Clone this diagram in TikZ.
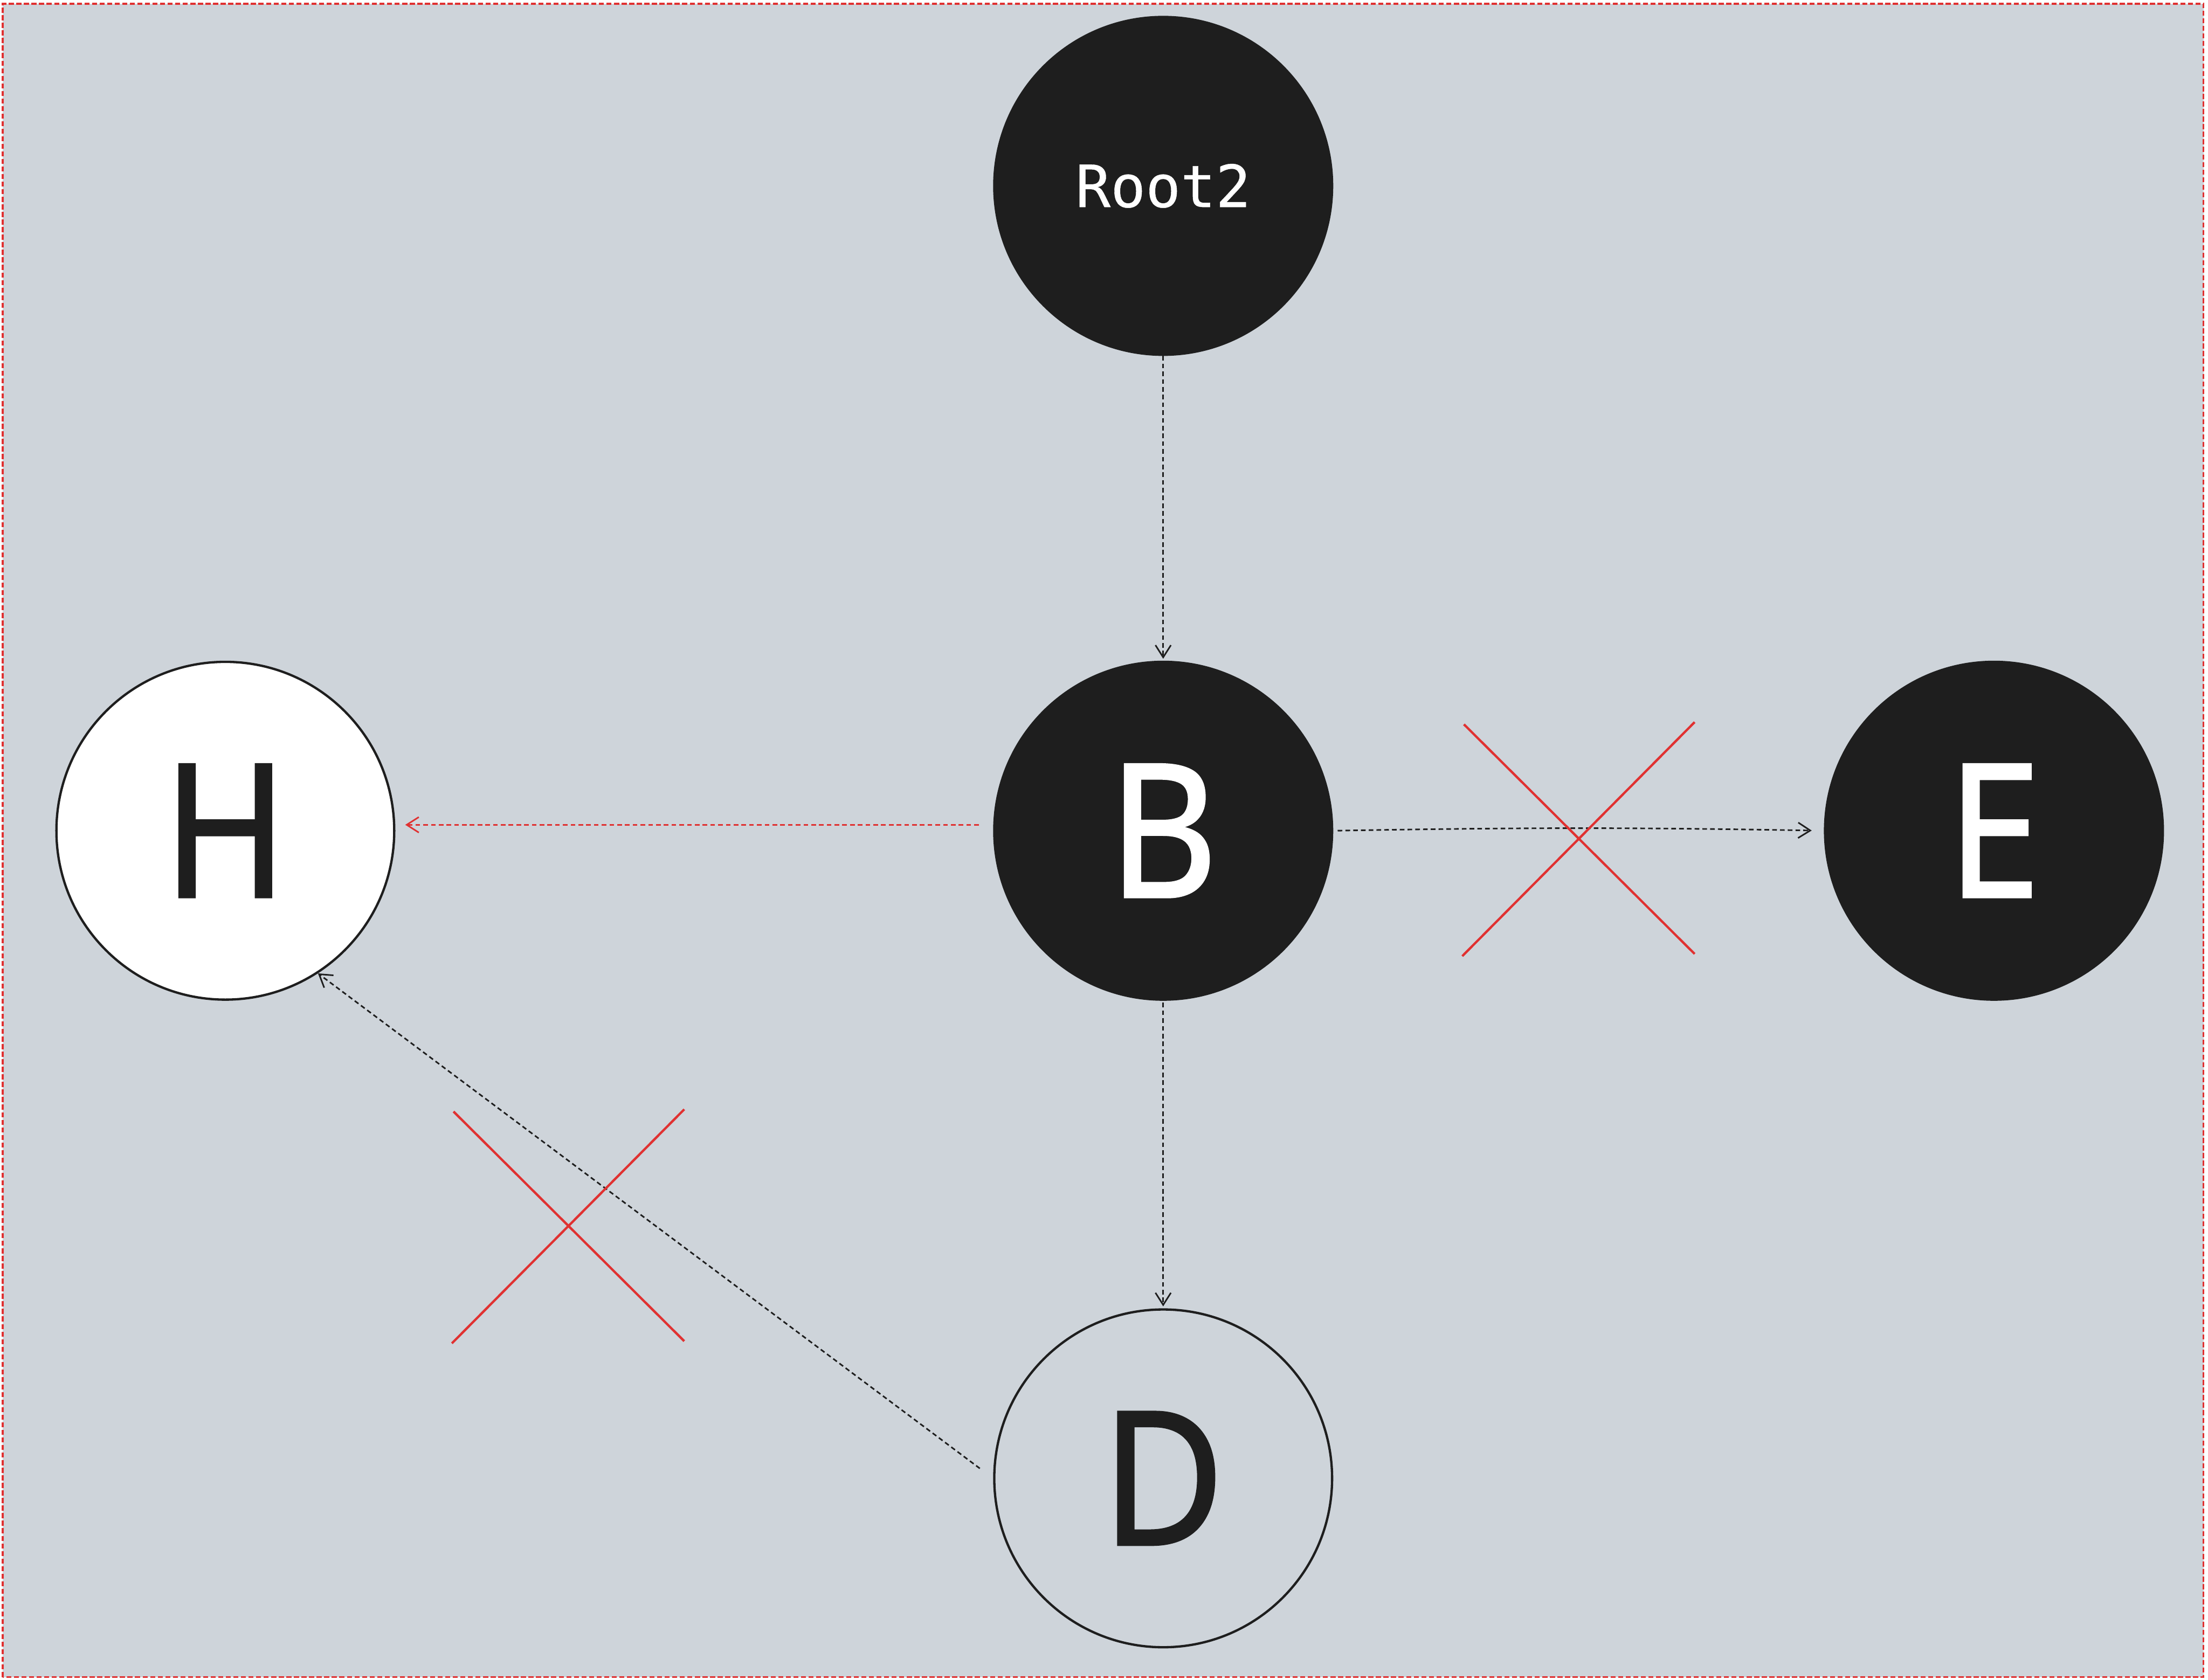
\documentclass[tikz,border=0pt]{standalone}
\usepackage{fontspec}
\setmainfont{Noto Sans}
\newfontfamily\letterfont[FakeBold=1.2,FakeStretch=0.9]{Noto Sans}
\newfontfamily\rootfont[FakeBold=0.4]{DejaVu Sans Mono}
\usetikzlibrary{arrows.meta}
\definecolor{boardgray}{RGB}{206,212,218}
\definecolor{inkblack}{RGB}{30,30,30}
\definecolor{crossred}{RGB}{224,49,49}

\begin{document}
\begin{tikzpicture}[
vertex/.style={circle, draw=inkblack, line width=0.6pt, minimum size=3.06cm, inner sep=0pt,
font=\letterfont\fontsize{48}{48}\selectfont},
darknode/.style={vertex, fill=inkblack, text=white},
whitenode/.style={vertex, fill=white, text=inkblack},
ringnode/.style={vertex, text=inkblack},
arrow/.style={-{Straight Barb[length=1.1mm,width=1.4mm]}, line width=0.4pt, draw=inkblack,
dash pattern=on 1.2pt off 0.8pt},
rarrow/.style={arrow, draw=crossred},
cross/.style={draw=crossred, line width=0.6pt},
frame/.style={fill=boardgray, draw=crossred, line width=0.45pt, dash pattern=on 1.3pt off 0.65pt}
]

\useasboundingbox (0,0) rectangle (20,15.217);
\draw[frame] (0.024,0.024) rectangle (19.96,15.183);

\node[darknode, font=\rootfont\fontsize{15}{15}\selectfont] (root) at (10.536,13.533) {Root2};
\node[darknode] (B) at (10.536,7.691) {B};
\node[whitenode] (H) at (2.041,7.691) {H};
\node[darknode] (E) at (18.061,7.691) {E};
\node[ringnode] (D) at (10.536,1.824) {D};

\draw[arrow, shorten >=0.5pt] (root) -- (B);
\draw[rarrow, shorten <=1.3mm, shorten >=0.9mm] (B.178) -- (H.2);
\draw[arrow, shorten <=0.4mm, shorten >=1.1mm] (B.east) to[bend left=1] (E.west);
\draw[arrow, shorten <=0.5pt, shorten >=0.5pt] (B) -- (D);
\draw[arrow, shorten <=1.5mm] (D.west) -- (H.-57);

% the two crossed-out links
\foreach \cx/\cy in {14.305/7.615, 5.153/4.107} {
\draw[cross] (\cx-1.045,\cy+1.04) -- (\cx+1.045,\cy-1.04);
\draw[cross] (\cx+1.045,\cy+1.06) -- (\cx-1.06,\cy-1.06);
}

\end{tikzpicture}
\end{document}
